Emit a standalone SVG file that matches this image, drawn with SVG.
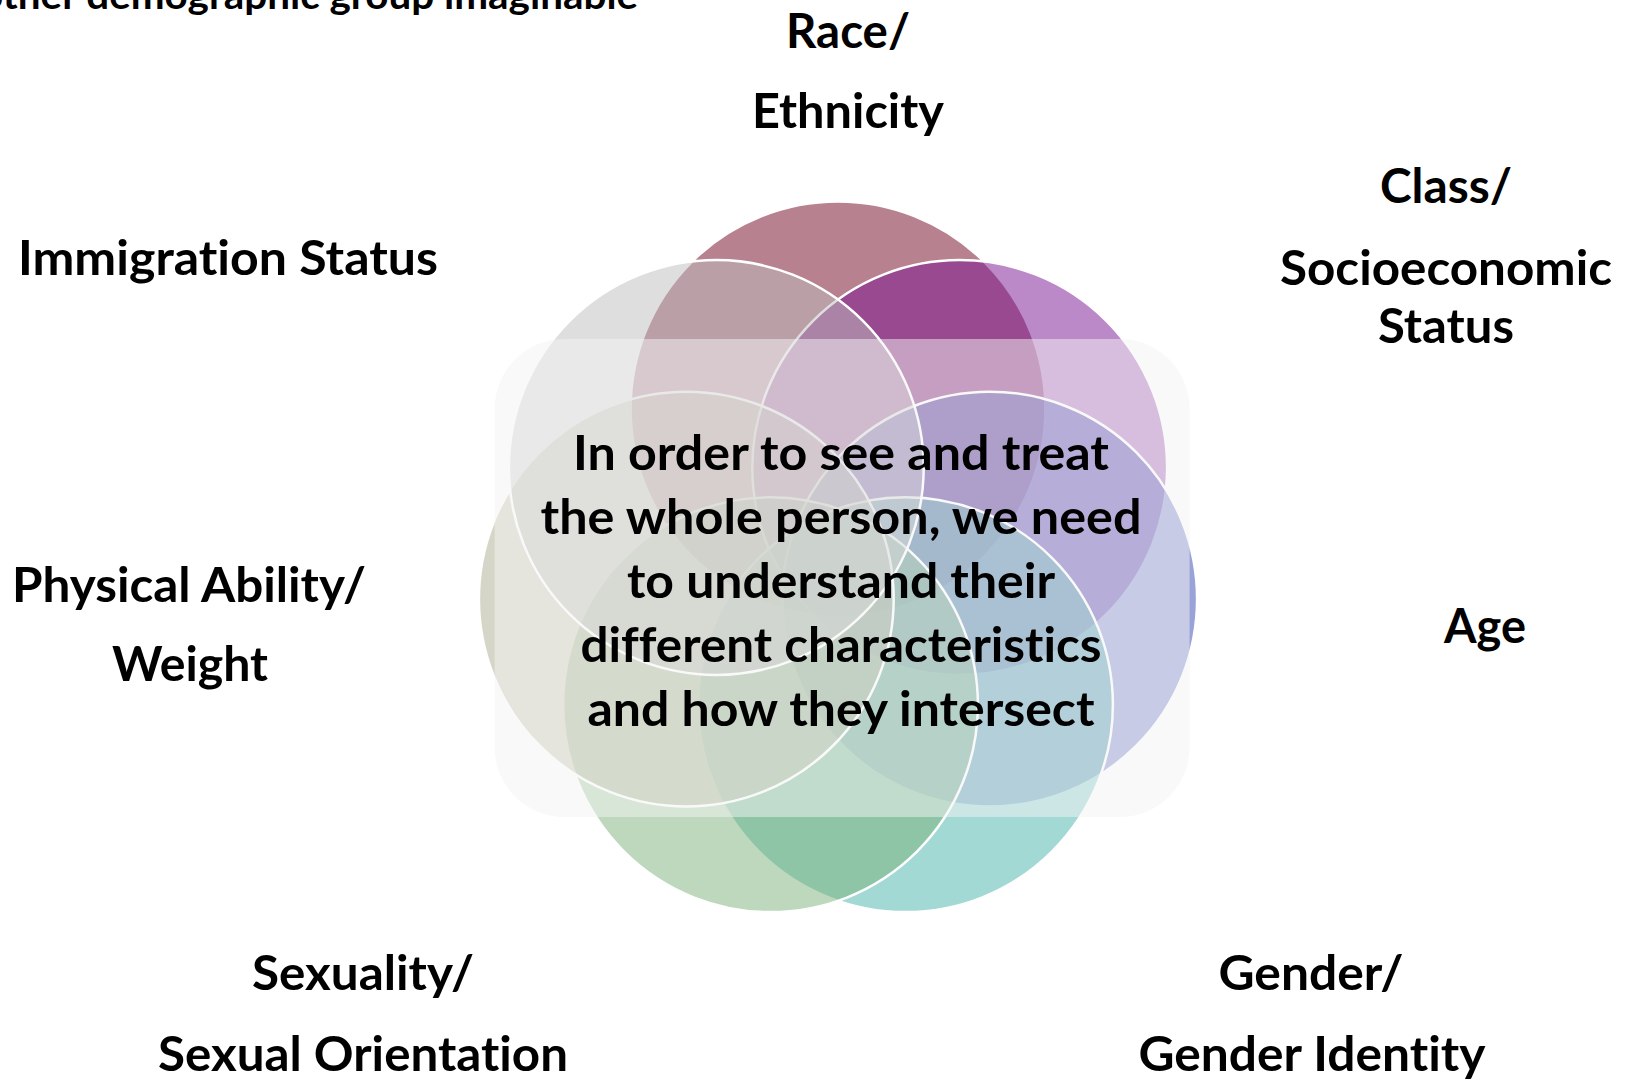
<svg xmlns="http://www.w3.org/2000/svg" width="1626" height="1081" viewBox="0 0 1626 1081">
  <style>
    .c { fill-opacity: 0.5; stroke: #ffffff; stroke-width: 2.5; }
    .t { font-family: Lato, "Open Sans", "Liberation Sans", sans-serif; font-weight: 700; font-size: 48px; fill: #000000; text-anchor: middle; font-variant-ligatures: none; font-feature-settings: "liga" 0, "clig" 0; }
  </style>
  <rect width="1626" height="1081" fill="#ffffff"/>

  <!-- heading running off the top edge -->
  <text class="t" x="-20" y="9" style="text-anchor:start;font-size:39px" textLength="658" lengthAdjust="spacingAndGlyphs">other demographic group imaginable</text>

  <!-- seven overlapping identity circles, drawn clockwise from the top -->
  <g id="race"><circle class="c" cx="838" cy="408.9" r="207.4" fill="#71031f"/></g>
  <g id="class"><circle class="c" cx="959.7" cy="467.5" r="207.4" fill="#771191"/></g>
  <g id="age"><circle class="c" cx="989.7" cy="599.1" r="207.4" fill="#3547b1"/></g>
  <g id="gender"><circle class="c" cx="905.5" cy="704.7" r="207.4" fill="#47b3a9"/></g>
  <g id="sexuality"><circle class="c" cx="770.5" cy="704.7" r="207.4" fill="#7bb179"/></g>
  <g id="ability"><circle class="c" cx="686.3" cy="599.1" r="207.4" fill="#adad91"/></g>
  <g id="immigration"><circle class="c" cx="716.3" cy="467.5" r="207.4" fill="#bdbdbd"/></g>

  <!-- translucent text panel over the circles -->
  <g id="center">
    <rect x="494.6" y="339" width="695" height="478" rx="70" ry="70" fill="#f3f3f3" fill-opacity="0.5"/>
    <text class="t" x="841" y="470" textLength="536" lengthAdjust="spacingAndGlyphs">In order to see and treat</text>
    <text class="t" x="841" y="534" textLength="601" lengthAdjust="spacingAndGlyphs">the whole person, we need</text>
    <text class="t" x="841" y="598" textLength="428" lengthAdjust="spacingAndGlyphs">to understand their</text>
    <text class="t" x="841" y="662" textLength="521" lengthAdjust="spacingAndGlyphs">different characteristics</text>
    <text class="t" x="841" y="726" textLength="507" lengthAdjust="spacingAndGlyphs">and how they intersect</text>
  </g>

  <!-- outer labels -->
  <g id="label-race">
    <text class="t" x="848" y="47.7" textLength="124" lengthAdjust="spacingAndGlyphs">Race/</text>
    <text class="t" x="848" y="127.5" textLength="192" lengthAdjust="spacingAndGlyphs">Ethnicity</text>
  </g>
  <g id="label-class">
    <text class="t" x="1446" y="203" textLength="132" lengthAdjust="spacingAndGlyphs">Class/</text>
    <text class="t" x="1446" y="285" textLength="332" lengthAdjust="spacingAndGlyphs">Socioeconomic</text>
    <text class="t" x="1446" y="343" textLength="136" lengthAdjust="spacingAndGlyphs">Status</text>
  </g>
  <g id="label-immigration">
    <text class="t" x="228" y="275" textLength="420" lengthAdjust="spacingAndGlyphs">Immigration Status</text>
  </g>
  <g id="label-ability">
    <text class="t" x="189" y="601.5" textLength="354" lengthAdjust="spacingAndGlyphs">Physical Ability/</text>
    <text class="t" x="190" y="681" textLength="156" lengthAdjust="spacingAndGlyphs">Weight</text>
  </g>
  <g id="label-age">
    <text class="t" x="1485" y="643" textLength="82" lengthAdjust="spacingAndGlyphs">Age</text>
  </g>
  <g id="label-sexuality">
    <text class="t" x="363" y="990" textLength="222" lengthAdjust="spacingAndGlyphs">Sexuality/</text>
    <text class="t" x="363" y="1071" textLength="410" lengthAdjust="spacingAndGlyphs">Sexual Orientation</text>
  </g>
  <g id="label-gender">
    <text class="t" x="1311" y="990" textLength="185" lengthAdjust="spacingAndGlyphs">Gender/</text>
    <text class="t" x="1312" y="1071" textLength="347" lengthAdjust="spacingAndGlyphs">Gender Identity</text>
  </g>
</svg>
